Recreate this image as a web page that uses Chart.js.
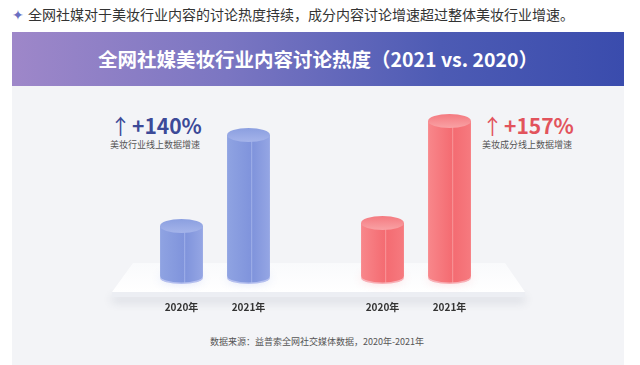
<!DOCTYPE html>
<html>
<head>
<meta charset="utf-8">
<script src="https://cdn.jsdelivr.net/npm/chart.js@4"></script>
<style>
  body { margin: 0; width: 640px; height: 365px; background: #fff; overflow: hidden; position: relative;
         font-family: "Noto Sans CJK SC", "Noto Sans", sans-serif; }
  .lead { position: absolute; left: 12px; top: 4px; font-size: 14px; color: #333; white-space: nowrap; line-height: 20px; }
  .lead .star { color: #6a6fc2; margin-right: 4px; }
  .panel { position: absolute; left: 12px; top: 86px; width: 612px; height: 279px; background: #f3f4f7; }
  .banner { position: absolute; left: 12px; top: 32px; width: 612px; height: 54px;
            background: linear-gradient(90deg, #9e87c9 0%, #7b76c2 35%, #4d5bb4 70%, #3a4cad 100%);
            color: #fff; font-weight: bold; font-size: 19.5px; line-height: 54px; text-align: center; }
  .note { position: absolute; white-space: nowrap; }
  .note .big { font-size: 21px; font-weight: bold; line-height: 24px; }
  .note .arrow { font-weight: normal; font-size: 21px; margin-right: 1px; }
  .note .small { font-size: 9px; color: #555; line-height: 12px; margin-top: 2px; }
  .blue { color: #3c4a98; }
  .red { color: #e2535c; }
  .source { position: absolute; left: 0; width: 634px; top: 335px; text-align: center; font-size: 9px; color: #555; }
  #chart { position: absolute; left: 0; top: 0; }
</style>
</head>
<body>
<div class="lead"><span class="star">✦</span>全网社媒对于美妆行业内容的讨论热度持续，成分内容讨论增速超过整体美妆行业增速。</div>
<div class="panel"></div>
<div class="banner">全网社媒美妆行业内容讨论热度（2021 vs. 2020）</div>
<div class="note" style="left:110px; top:113px;">
  <div class="big blue"><span class="arrow">↑</span>+140%</div>
  <div class="small">美妆行业线上数据增速</div>
</div>
<div class="note" style="left:482px; top:113px;">
  <div class="big red"><span class="arrow">↑</span>+157%</div>
  <div class="small">美妆成分线上数据增速</div>
</div>
<div class="source">数据来源：益普索全网社交媒体数据，2020年-2021年</div>
<canvas id="chart" width="640" height="365"></canvas>
<script>
// categories (empty slot keeps the two groups apart)
const categories = ['2020年', '2021年', '', '2020年', '2021年'];
// discussion heat, relative units
const industryHeat = [50, 141, null, null, null];
const ingredientHeat = [null, null, null, 53, 155];

const BAR_PCT = 0.64;

function barGradient(stops) {
  return function(c) {
    const chart = c.chart;
    if (!chart.chartArea || c.dataIndex === undefined) return stops[1];
    const x = chart.scales.x.getPixelForValue(c.dataIndex);
    const w = chart.chartArea.width / categories.length * BAR_PCT;
    const g = chart.ctx.createLinearGradient(x - w / 2, 0, x + w / 2, 0);
    g.addColorStop(0, stops[0]);
    g.addColorStop(0.55, stops[1]);
    g.addColorStop(0.56, stops[3]);
    g.addColorStop(0.6, stops[1]);
    g.addColorStop(1, stops[2]);
    return g;
  };
}

const blueStops = ['#8fa3e2', '#8094dc', '#95a6e4', '#a2b2ea'];
const redStops = ['#f8878b', '#f46c72', '#f67a7f', '#f99a9d'];

const stagePlugin = {
  id: 'stage',
  beforeDatasetsDraw(chart) {
    const ctx = chart.ctx;
    const a = chart.chartArea;
    const base = a.bottom;
    const backY = base - 13, frontY = base + 16;
    ctx.save();
    // slab shadow
    ctx.shadowColor = 'rgba(60,70,100,0.18)';
    ctx.shadowBlur = 10;
    ctx.shadowOffsetY = 5;
    ctx.fillStyle = '#eceef3';
    ctx.beginPath();
    ctx.moveTo(a.left - 36, frontY);
    ctx.lineTo(a.right + 42, frontY);
    ctx.lineTo(a.right + 42, frontY + 5);
    ctx.lineTo(a.left - 36, frontY + 5);
    ctx.closePath();
    ctx.fill();
    ctx.restore();
    // top face
    ctx.save();
    const g = ctx.createLinearGradient(0, backY, 0, frontY);
    g.addColorStop(0, '#f9fafc');
    g.addColorStop(1, '#ffffff');
    ctx.fillStyle = g;
    ctx.beginPath();
    ctx.moveTo(a.left - 15, backY);
    ctx.lineTo(a.right + 22, backY);
    ctx.lineTo(a.right + 42, frontY);
    ctx.lineTo(a.left - 36, frontY);
    ctx.closePath();
    ctx.fill();
    ctx.restore();
    // soft glow under each cylinder
    chart.data.datasets.forEach((ds, di) => {
      chart.getDatasetMeta(di).data.forEach((bar, i) => {
        if (ds.data[i] == null) return;
        ctx.save();
        ctx.shadowColor = ds.glow;
        ctx.shadowBlur = 10;
        ctx.fillStyle = ds.glow;
        ctx.beginPath();
        ctx.ellipse(bar.x, bar.base + 2, bar.width / 2, 6, 0, 0, Math.PI * 2);
        ctx.fill();
        ctx.restore();
      });
    });
  },
  afterDatasetsDraw(chart) {
    const ctx = chart.ctx;
    chart.data.datasets.forEach((ds, di) => {
      chart.getDatasetMeta(di).data.forEach((bar, i) => {
        if (ds.data[i] == null) return;
        const r = bar.width / 2;
        ctx.save();
        // rounded bottom
        ctx.fillStyle = bar.options.backgroundColor;
        ctx.beginPath();
        ctx.ellipse(bar.x, bar.base, r, 6.5, 0, 0, Math.PI);
        ctx.fill();
        // top cap
        const tg = ctx.createLinearGradient(0, bar.y - 7, 0, bar.y + 7);
        tg.addColorStop(0, ds.capStops[0]);
        tg.addColorStop(1, ds.capStops[1]);
        ctx.fillStyle = tg;
        ctx.beginPath();
        ctx.ellipse(bar.x, bar.y, r, 7, 0, 0, Math.PI * 2);
        ctx.fill();
        ctx.restore();
      });
    });
    // category labels under the stage
    const xs = chart.scales.x;
    ctx.save();
    ctx.fillStyle = '#333';
    ctx.font = 'bold 10px "Noto Sans CJK SC"';
    ctx.textAlign = 'center';
    ctx.textBaseline = 'middle';
    categories.forEach((lab, i) => {
      ctx.fillText(lab, xs.getPixelForValue(i), chart.chartArea.bottom + 31);
    });
    ctx.restore();
  }
};

new Chart(document.getElementById('chart'), {
  type: 'bar',
  data: {
    labels: categories,
    datasets: [{
      label: '美妆行业',
      data: industryHeat,
      backgroundColor: barGradient(blueStops),
      glow: 'rgba(110,130,225,0.45)',
      capStops: ['#8b9fe0', '#a5b4ea']
    }, {
      label: '美妆成分',
      data: ingredientHeat,
      backgroundColor: barGradient(redStops),
      glow: 'rgba(245,100,110,0.45)',
      capStops: ['#f47a80', '#f9a2a5']
    }]
  },
  options: {
    responsive: false,
    animation: false,
    layout: { padding: { left: 148, right: 157, top: 96, bottom: 89 } },
    datasets: { bar: { grouped: false, barPercentage: BAR_PCT, categoryPercentage: 1, borderWidth: 0, borderSkipped: false } },
    plugins: { legend: { display: false }, tooltip: { enabled: false } },
    scales: {
      x: { display: false },
      y: { display: false, min: 0, max: 180 }
    }
  },
  plugins: [stagePlugin]
});
</script>
</body>
</html>
